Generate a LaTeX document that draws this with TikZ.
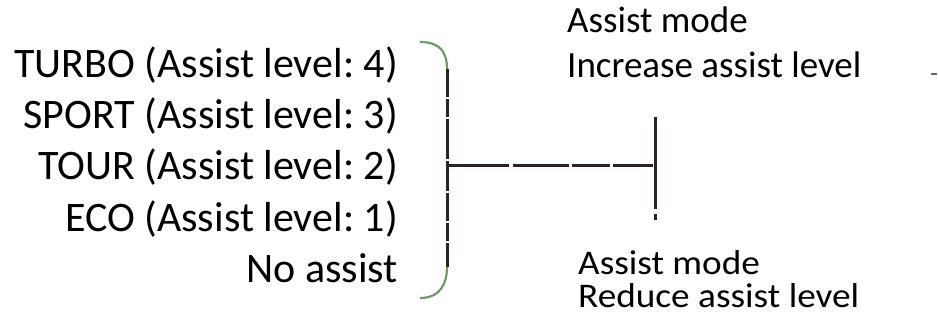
\documentclass[tikz,border=0pt]{standalone}
\usepackage{fontspec}
\setmainfont{Carlito}
\newfontfamily\widefont[FakeStretch=1.08]{Carlito}
\frenchspacing
\definecolor{linec}{HTML}{2D2326}
\definecolor{arcc}{HTML}{6F9A68}
\tikzset{
  lefttext/.style={anchor=base east, inner sep=0pt, font=\fontsize{42}{50}\selectfont},
  righttext/.style={anchor=base west, inner sep=0pt, align=left},
  bar/.style={draw=linec, line width=3pt},
  arcline/.style={draw=arcc, line width=2.2pt}
}
\begin{document}
\begin{tikzpicture}[x=1pt,y=-1pt]
\useasboundingbox (0,0) rectangle (938,328);
% left labels
\node[lefttext] (turbo) at (398,78) {TURBO (Assist level: 4)};
\node[lefttext] (sport) at (398,129) {SPORT (Assist level: 3)};
\node[lefttext] (tour)  at (398,180) {TOUR (Assist level: 2)};
\node[lefttext] (eco)   at (398,232) {ECO (Assist level: 1)};
\node[lefttext] (none)  at (398,283) {No assist};
% right labels
\node[righttext, font=\fontsize{37}{45}\selectfont] (up) at (567,78) {Assist mode\\Increase assist level};
\node[righttext, font=\widefont\fontsize{34.5}{33}\selectfont] (dn) at (578,308) {Assist mode\\Reduce assist level};
% bracket
\coordinate (btop) at (420,42);
\coordinate (bvt) at (447,69);
\coordinate (bmid) at (447,166);
\coordinate (bvb) at (447,267);
\coordinate (bbot) at (420,298);
\draw[arcline] (btop) .. controls (440,42) and (447,52) .. (bvt);
\draw[arcline] (bvb) .. controls (447,284) and (440,298) .. (bbot);
\draw[bar, dash pattern=on 28pt off 2pt on 18pt off 2pt on 40pt off 2pt on 30pt off 2pt] (bvt) -- (bvb);
% T connector
\coordinate (tmid) at (655,166);
\coordinate (ttop) at (655,117);
\coordinate (tbot) at (655,220);
\draw[bar, dash pattern=on 62pt off 4pt on 56pt off 3pt on 38pt off 3pt on 40pt] (bmid) -- (tmid);
\draw[bar, dash pattern=on 92pt off 5pt on 6pt off 10pt] (ttop) -- (tbot);
% small mark at right edge
\coordinate (ma) at (931,74);
\coordinate (mb) at (937,74);
\draw[draw=linec!70, line width=2pt] (ma) -- (mb);
\end{tikzpicture}
\end{document}
